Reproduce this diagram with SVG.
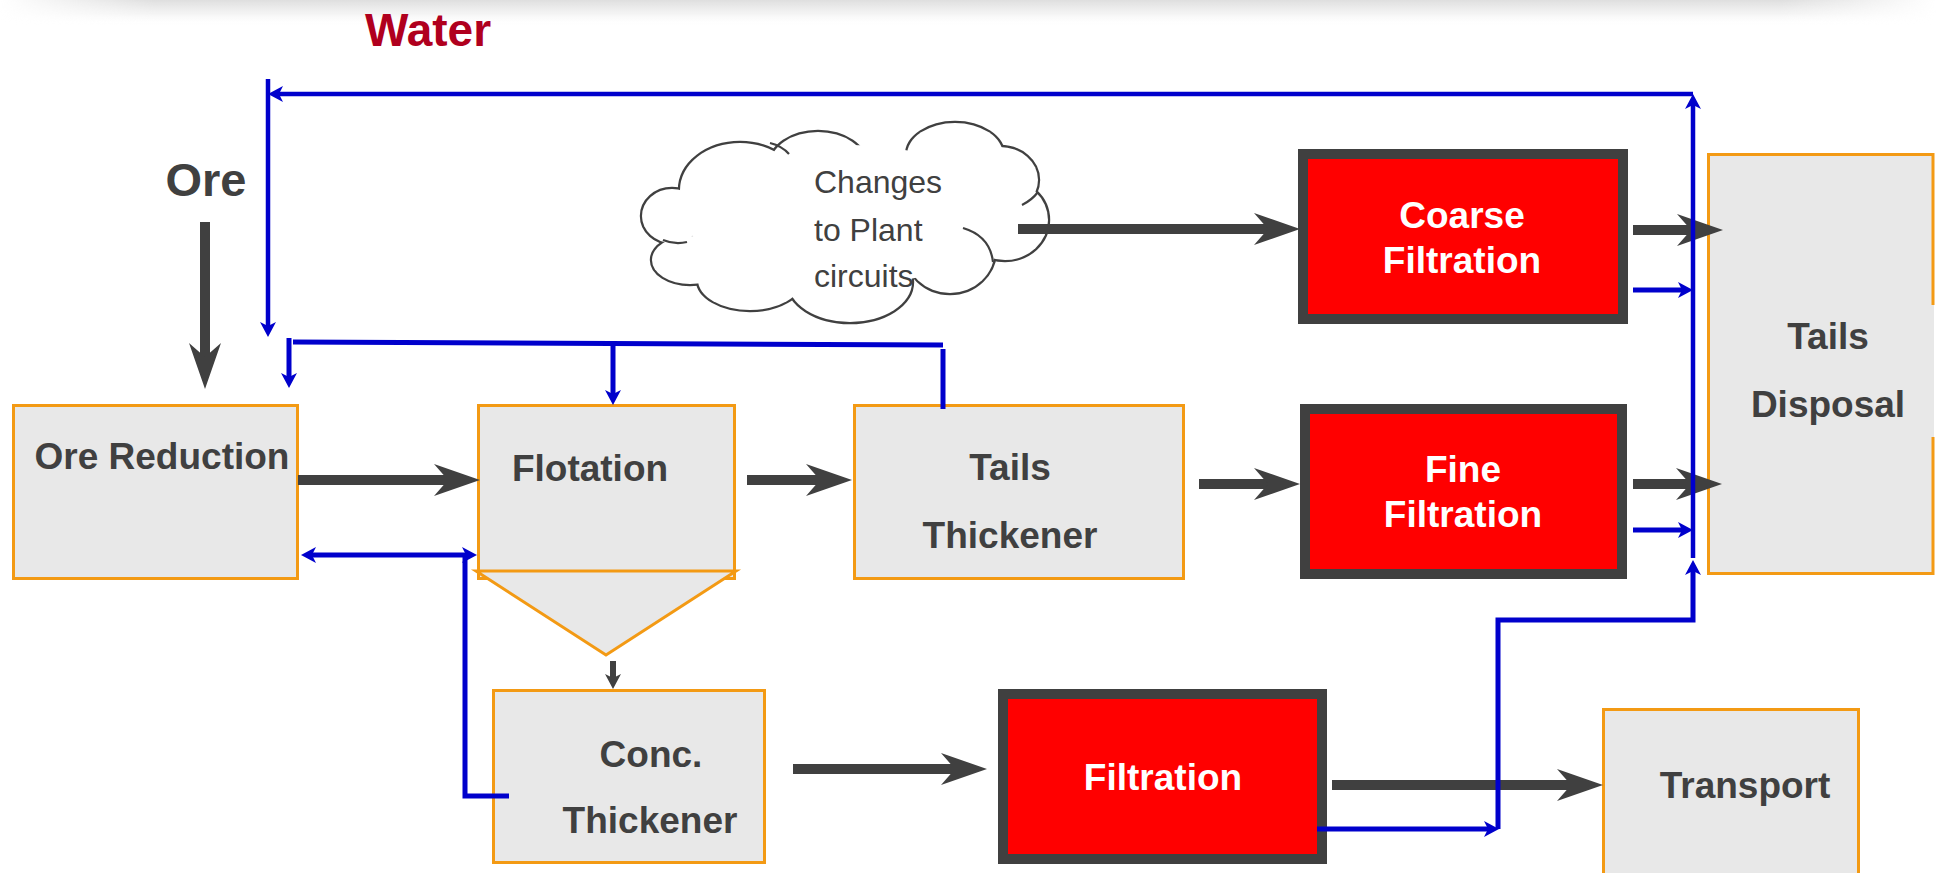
<svg xmlns="http://www.w3.org/2000/svg" xmlns:xlink="http://www.w3.org/1999/xlink" width="1936" height="873" viewBox="0 0 1936 873">
<style>
.box{fill:#E8E8E8;stroke:#F39A14;stroke-width:3}
.fbox{fill:#FF0000;stroke:#404040;stroke-width:10}
.lbl{font-family:"Liberation Sans",Arial,sans-serif;font-weight:bold;font-size:37px;fill:#404040;text-anchor:middle}
.wlbl{font-family:"Liberation Sans",Arial,sans-serif;font-weight:bold;font-size:37px;fill:#FFFFFF;text-anchor:middle}
.ctxt{font-family:"Liberation Sans",Arial,sans-serif;font-size:32px;fill:#404040}
.shaft{stroke:#404040;stroke-width:10;fill:none}
.blue{stroke:#0000CC;stroke-width:5;fill:none}
.cl-s{fill:none;stroke:#404040;stroke-width:4.4}
.cl-f{fill:#FFFFFF;stroke:none}
.cl-i{fill:none;stroke:#404040;stroke-width:2.2}
</style>
<defs>
<linearGradient id="shade" x1="0" y1="0" x2="0" y2="1">
<stop offset="0" stop-color="#D6D6D6" stop-opacity="0.8"/>
<stop offset="0.5" stop-color="#E6E6E6" stop-opacity="0.5"/>
<stop offset="1" stop-color="#FFFFFF" stop-opacity="0"/>
</linearGradient>
<linearGradient id="hfade" x1="0" y1="0" x2="1" y2="0">
<stop offset="0" stop-color="#000000"/>
<stop offset="0.08" stop-color="#FFFFFF"/>
<stop offset="0.92" stop-color="#FFFFFF"/>
<stop offset="1" stop-color="#000000"/>
</linearGradient>
<mask id="shmask"><rect x="0" y="0" width="1936" height="30" fill="url(#hfade)"/></mask>
<path id="ah" d="M0,0 L-46,-16 L-32,0 L-46,16 Z" fill="#404040"/>
<marker id="bh" markerUnits="userSpaceOnUse" markerWidth="16" markerHeight="16" viewBox="0 0 16 16" refX="9" refY="8" orient="auto-start-reverse">
<path d="M0,0 L15,8 L0,16 L4,8 Z" fill="#0000CC"/>
</marker>
</defs>
<rect x="0" y="0" width="1936" height="873" fill="#FFFFFF"/>
<rect x="0" y="0" width="1936" height="26" fill="url(#shade)" mask="url(#shmask)"/>

<g id="water-label"><text x="428" y="46" font-family="Liberation Sans, Arial, sans-serif" font-weight="bold" font-size="46" fill="#B0001E" text-anchor="middle">Water</text></g>
<g id="ore-label"><text x="206" y="196" class="lbl" style="font-size:47px">Ore</text></g>

<g id="cloud">
<g class="cl-s">
<ellipse cx="672" cy="216" rx="30" ry="27"/>
<ellipse cx="690" cy="260" rx="38" ry="24"/>
<ellipse cx="750" cy="280" rx="52" ry="30"/>
<ellipse cx="850" cy="282" rx="62" ry="40"/>
<ellipse cx="950" cy="250" rx="45" ry="43"/>
<ellipse cx="1005" cy="220" rx="43" ry="40"/>
<ellipse cx="1000" cy="180" rx="38" ry="33"/>
<ellipse cx="955" cy="155" rx="48" ry="32"/>
<ellipse cx="818" cy="165" rx="48" ry="33"/>
<ellipse cx="740" cy="190" rx="60" ry="47"/>
</g>
<g class="cl-f">
<ellipse cx="672" cy="216" rx="30" ry="27"/>
<ellipse cx="690" cy="260" rx="38" ry="24"/>
<ellipse cx="750" cy="280" rx="52" ry="30"/>
<ellipse cx="850" cy="282" rx="62" ry="40"/>
<ellipse cx="950" cy="250" rx="45" ry="43"/>
<ellipse cx="1005" cy="220" rx="43" ry="40"/>
<ellipse cx="1000" cy="180" rx="38" ry="33"/>
<ellipse cx="955" cy="155" rx="48" ry="32"/>
<ellipse cx="818" cy="165" rx="48" ry="33"/>
<ellipse cx="740" cy="190" rx="60" ry="47"/>
<ellipse cx="845" cy="215" rx="160" ry="70"/>
</g>
<path class="cl-i" d="M663,240 Q675,245 687,242 M963,228 Q990,236 993,262 M1038,192 Q1032,200 1022,205 M770,143 Q782,146 789,154"/>
<text class="ctxt" x="814" y="193">Changes</text>
<text class="ctxt" x="814" y="241">to Plant</text>
<text class="ctxt" x="814" y="287">circuits</text>
</g>

<g id="ore-reduction">
<rect class="box" x="13.5" y="405.5" width="284" height="173"/>
<text class="lbl" x="162" y="469">Ore Reduction</text>
</g>
<g id="flotation">
<rect class="box" x="478.5" y="405.5" width="256" height="173"/>
<polygon class="box" points="476,571 736,571 606,655"/>
<text class="lbl" x="590" y="481">Flotation</text>
</g>
<g id="tails-thickener">
<rect class="box" x="854.5" y="405.5" width="329" height="173"/>
<text class="lbl" x="1010" y="480">Tails</text>
<text class="lbl" x="1010" y="548">Thickener</text>
</g>
<g id="conc-thickener">
<rect class="box" x="493.5" y="690.5" width="271" height="172"/>
<text class="lbl" x="651" y="767">Conc.</text>
<text class="lbl" x="650" y="833">Thickener</text>
</g>
<g id="coarse-filtration">
<rect class="fbox" x="1303" y="154" width="320" height="165"/>
<text class="wlbl" x="1462" y="228">Coarse</text>
<text class="wlbl" x="1462" y="273">Filtration</text>
</g>
<g id="fine-filtration">
<rect class="fbox" x="1305" y="409" width="317" height="165"/>
<text class="wlbl" x="1463" y="482">Fine</text>
<text class="wlbl" x="1463" y="527">Filtration</text>
</g>
<g id="filtration">
<rect class="fbox" x="1003" y="694" width="319" height="165"/>
<text class="wlbl" x="1163" y="790">Filtration</text>
</g>
<g id="tails-disposal">
<rect x="1708" y="154" width="226" height="420" fill="#E8E8E8"/>
<path d="M1933,305 V154.5 H1708.5 V573.5 H1933 V437" fill="none" stroke="#F39A14" stroke-width="3"/>
<text class="lbl" x="1828" y="349">Tails</text>
<text class="lbl" x="1828" y="417">Disposal</text>
</g>
<g id="transport">
<rect class="box" x="1603.5" y="709.5" width="255" height="180"/>
<text class="lbl" x="1745" y="798">Transport</text>
</g>

<g id="connectors">
<g id="process-arrows">
<line class="shaft" x1="205" y1="222" x2="205" y2="360"/>
<use xlink:href="#ah" transform="translate(205,389) rotate(90)"/>
<line class="shaft" x1="298" y1="480" x2="450" y2="480"/>
<use xlink:href="#ah" transform="translate(480,480)"/>
<line class="shaft" x1="747" y1="480" x2="822" y2="480"/>
<use xlink:href="#ah" transform="translate(852,480)"/>
<line class="shaft" x1="1199" y1="484" x2="1270" y2="484"/>
<use xlink:href="#ah" transform="translate(1300,484)"/>
<line class="shaft" x1="1633" y1="484" x2="1692" y2="484"/>
<use xlink:href="#ah" transform="translate(1722,484)"/>
<line class="shaft" x1="1018" y1="229" x2="1270" y2="229"/>
<use xlink:href="#ah" transform="translate(1300,229)"/>
<line class="shaft" x1="1633" y1="230" x2="1693" y2="230"/>
<use xlink:href="#ah" transform="translate(1723,230)"/>
<line class="shaft" x1="793" y1="769" x2="957" y2="769"/>
<use xlink:href="#ah" transform="translate(987,769)"/>
<line class="shaft" x1="1332" y1="785" x2="1573" y2="785"/>
<use xlink:href="#ah" transform="translate(1603,785)"/>
<line x1="613" y1="661" x2="613" y2="681" stroke="#404040" stroke-width="6"/>
<path d="M613,689 L605,674 L613,678 L621,674 Z" fill="#404040"/>
</g>
<g id="water-lines">
<path class="blue" style="stroke-width:4.5" d="M1693,94 H274" marker-end="url(#bh)"/>
<path class="blue" style="stroke-width:4.5" d="M268,79 V331" marker-end="url(#bh)"/>
<path class="blue" style="stroke-width:4.5" d="M1693,558 V100" marker-end="url(#bh)"/>
<path class="blue" d="M293,342 L943,345"/>
<path class="blue" d="M289,338 V382" marker-end="url(#bh)"/>
<path class="blue" d="M613,343 V399" marker-end="url(#bh)"/>
<path class="blue" d="M943,349 V409"/>
<path class="blue" d="M307,555 H471" marker-start="url(#bh)" marker-end="url(#bh)"/>
<path class="blue" d="M465,555 V796 H509"/>
<path class="blue" d="M1633,290 H1687" marker-end="url(#bh)"/>
<path class="blue" d="M1633,530 H1687" marker-end="url(#bh)"/>
<path class="blue" d="M1317,829 H1493" marker-end="url(#bh)"/>
<path class="blue" d="M1498,829 V620 H1693 V566" marker-end="url(#bh)"/>
</g>
</g>
</svg>
